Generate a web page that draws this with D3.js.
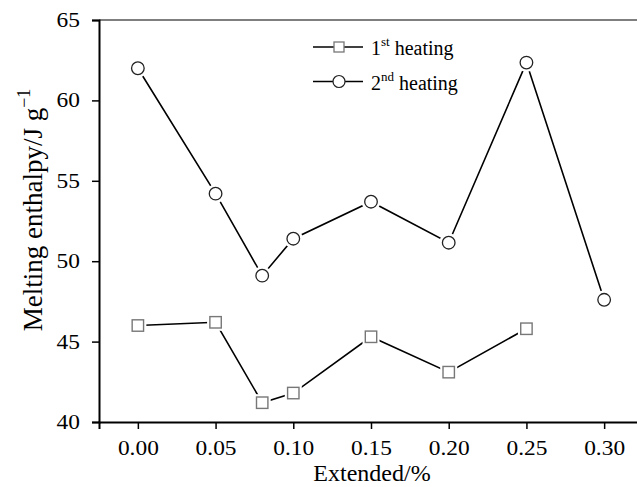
<!DOCTYPE html>
<html>
<head>
<meta charset="utf-8">
<script src="https://cdn.jsdelivr.net/npm/d3@7"></script>
<style>
  body { margin: 0; background: #fff; }
  text { font-family: "Liberation Serif", "Times New Roman", serif; fill: #000; }
</style>
</head>
<body>
<script>
  // extension ratio (%) for each sample
  let extended1 = [0.00, 0.05, 0.08, 0.10, 0.15, 0.20, 0.25]
  let heating1 = [46.0, 46.2, 41.2, 41.8, 45.3, 43.1, 45.8]
  let extended2 = [0.00, 0.05, 0.08, 0.10, 0.15, 0.20, 0.25, 0.30]
  let heating2 = [62.0, 54.2, 49.1, 51.4, 53.7, 51.15, 62.35, 47.6]
  let xTicks = [0.00, 0.05, 0.10, 0.15, 0.20, 0.25, 0.30]
  let yTicks = [40, 45, 50, 55, 60, 65]

  let width = 637
  let height = 487

  let svg = d3.select('body').append('svg')
    .attr('width', width)
    .attr('height', height)

  let x = d3.scaleLinear().domain([-0.025, 0.325]).range([99, 643])
  let y = d3.scaleLinear().domain([40, 65]).range([422, 20])

  // top frame line
  svg.append('line')
    .attr('x1', x(-0.025)).attr('x2', x(0.325))
    .attr('y1', y(65)).attr('y2', y(65))
    .style('stroke', '#555')
    .style('stroke-width', 1.5)

  /* axes */
  let xMinor = d3.range(-0.025, 0.33, 0.05)
  let yMinor = d3.range(42.5, 65, 5)

  let gx = svg.append('g').attr('transform', 'translate(0,' + y(40) + ')')
  gx.call(d3.axisBottom(x).tickValues(xMinor).tickSize(4).tickFormat(''))
  gx.call(d3.axisBottom(x).tickValues(xTicks).tickSize(7).tickPadding(12).tickFormat(d3.format('.2f')))
  // the labels in the picture are a little wider than plain Times
  gx.selectAll('.tick text').attr('transform', 'scale(1.17,1)')

  let gy = svg.append('g').attr('transform', 'translate(' + x(-0.025) + ',0)')
  gy.call(d3.axisLeft(y).tickValues(yMinor).tickSize(4).tickFormat(''))
  gy.call(d3.axisLeft(y).tickValues(yTicks).tickSize(7).tickFormat(d3.format('d')))
  gy.selectAll('.tick text').attr('x', 0).attr('transform', 'translate(-19,0) scale(1.17,1)')

  svg.selectAll('.domain').style('stroke', '#000').style('stroke-width', 2)
  svg.selectAll('.tick line').style('stroke', '#000').style('stroke-width', 1.5)
  svg.selectAll('.tick text')
    .style('font-family', '"Liberation Serif", serif')
    .style('font-size', '20px')
    .style('fill', '#000')

  // axis titles
  svg.append('text')
    .attr('x', 372)
    .attr('y', 481)
    .attr('text-anchor', 'middle')
    .style('font-size', '24px')
    .text('Extended/%')

  let yTitle = svg.append('text')
    .attr('transform', 'translate(42,210) rotate(-90)')
    .attr('text-anchor', 'middle')
    .style('font-size', '27px')
  yTitle.append('tspan').text('Melting enthalpy/J g')
  yTitle.append('tspan').attr('dy', -12).style('font-size', '18px').text('\u22121')

  /* series */
  let line = d3.line()

  function drawSeries (xs, ys, shape) {
    let pts = xs.map((v, i) => [x(v), y(ys[i])])
    svg.append('path')
      .attr('d', line(pts))
      .style('fill', 'none')
      .style('stroke', '#000')
      .style('stroke-width', 1.6)

    let g = svg.append('g')
    pts.forEach(p => {
      if (shape === 'circle') {
        g.append('circle').attr('cx', p[0]).attr('cy', p[1]).attr('r', 9.5).style('fill', '#fff')
        g.append('circle').attr('cx', p[0]).attr('cy', p[1]).attr('r', 6.3)
          .style('fill', '#fff').style('stroke', '#222').style('stroke-width', 1.3)
      } else {
        g.append('rect').attr('x', p[0] - 8.5).attr('y', p[1] - 8.5).attr('width', 17).attr('height', 17).style('fill', '#fff')
        g.append('rect').attr('x', p[0] - 5.7).attr('y', p[1] - 5.7).attr('width', 11.4).attr('height', 11.4)
          .style('fill', '#fff').style('stroke', '#777').style('stroke-width', 1.4)
      }
    })
  }

  drawSeries(extended1, heating1, 'square')
  drawSeries(extended2, heating2, 'circle')

  /* legend */
  let legendItems = [
    {shape: 'square', num: '1', sup: 'st'},
    {shape: 'circle', num: '2', sup: 'nd'}
  ]
  legendItems.forEach((item, i) => {
    let ly = 47 + i * 34.5
    svg.append('line')
      .attr('x1', 313).attr('x2', 363)
      .attr('y1', ly).attr('y2', ly)
      .style('stroke', '#000').style('stroke-width', 1.6)
    if (item.shape === 'circle') {
      svg.append('circle').attr('cx', 339).attr('cy', ly).attr('r', 6)
        .style('fill', '#fff').style('stroke', '#222').style('stroke-width', 1.2)
    } else {
      svg.append('rect').attr('x', 334).attr('y', ly - 5).attr('width', 10).attr('height', 10)
        .style('fill', '#fff').style('stroke', '#777').style('stroke-width', 1.3)
    }
    let t = svg.append('text')
      .attr('x', 371)
      .attr('y', ly + 8)
      .style('font-size', '20px')
    t.append('tspan').text(item.num)
    t.append('tspan').attr('dy', -9).style('font-size', '13px').text(item.sup)
    t.append('tspan').attr('dy', 9).text(' heating')
  })
</script>
</body>
</html>
